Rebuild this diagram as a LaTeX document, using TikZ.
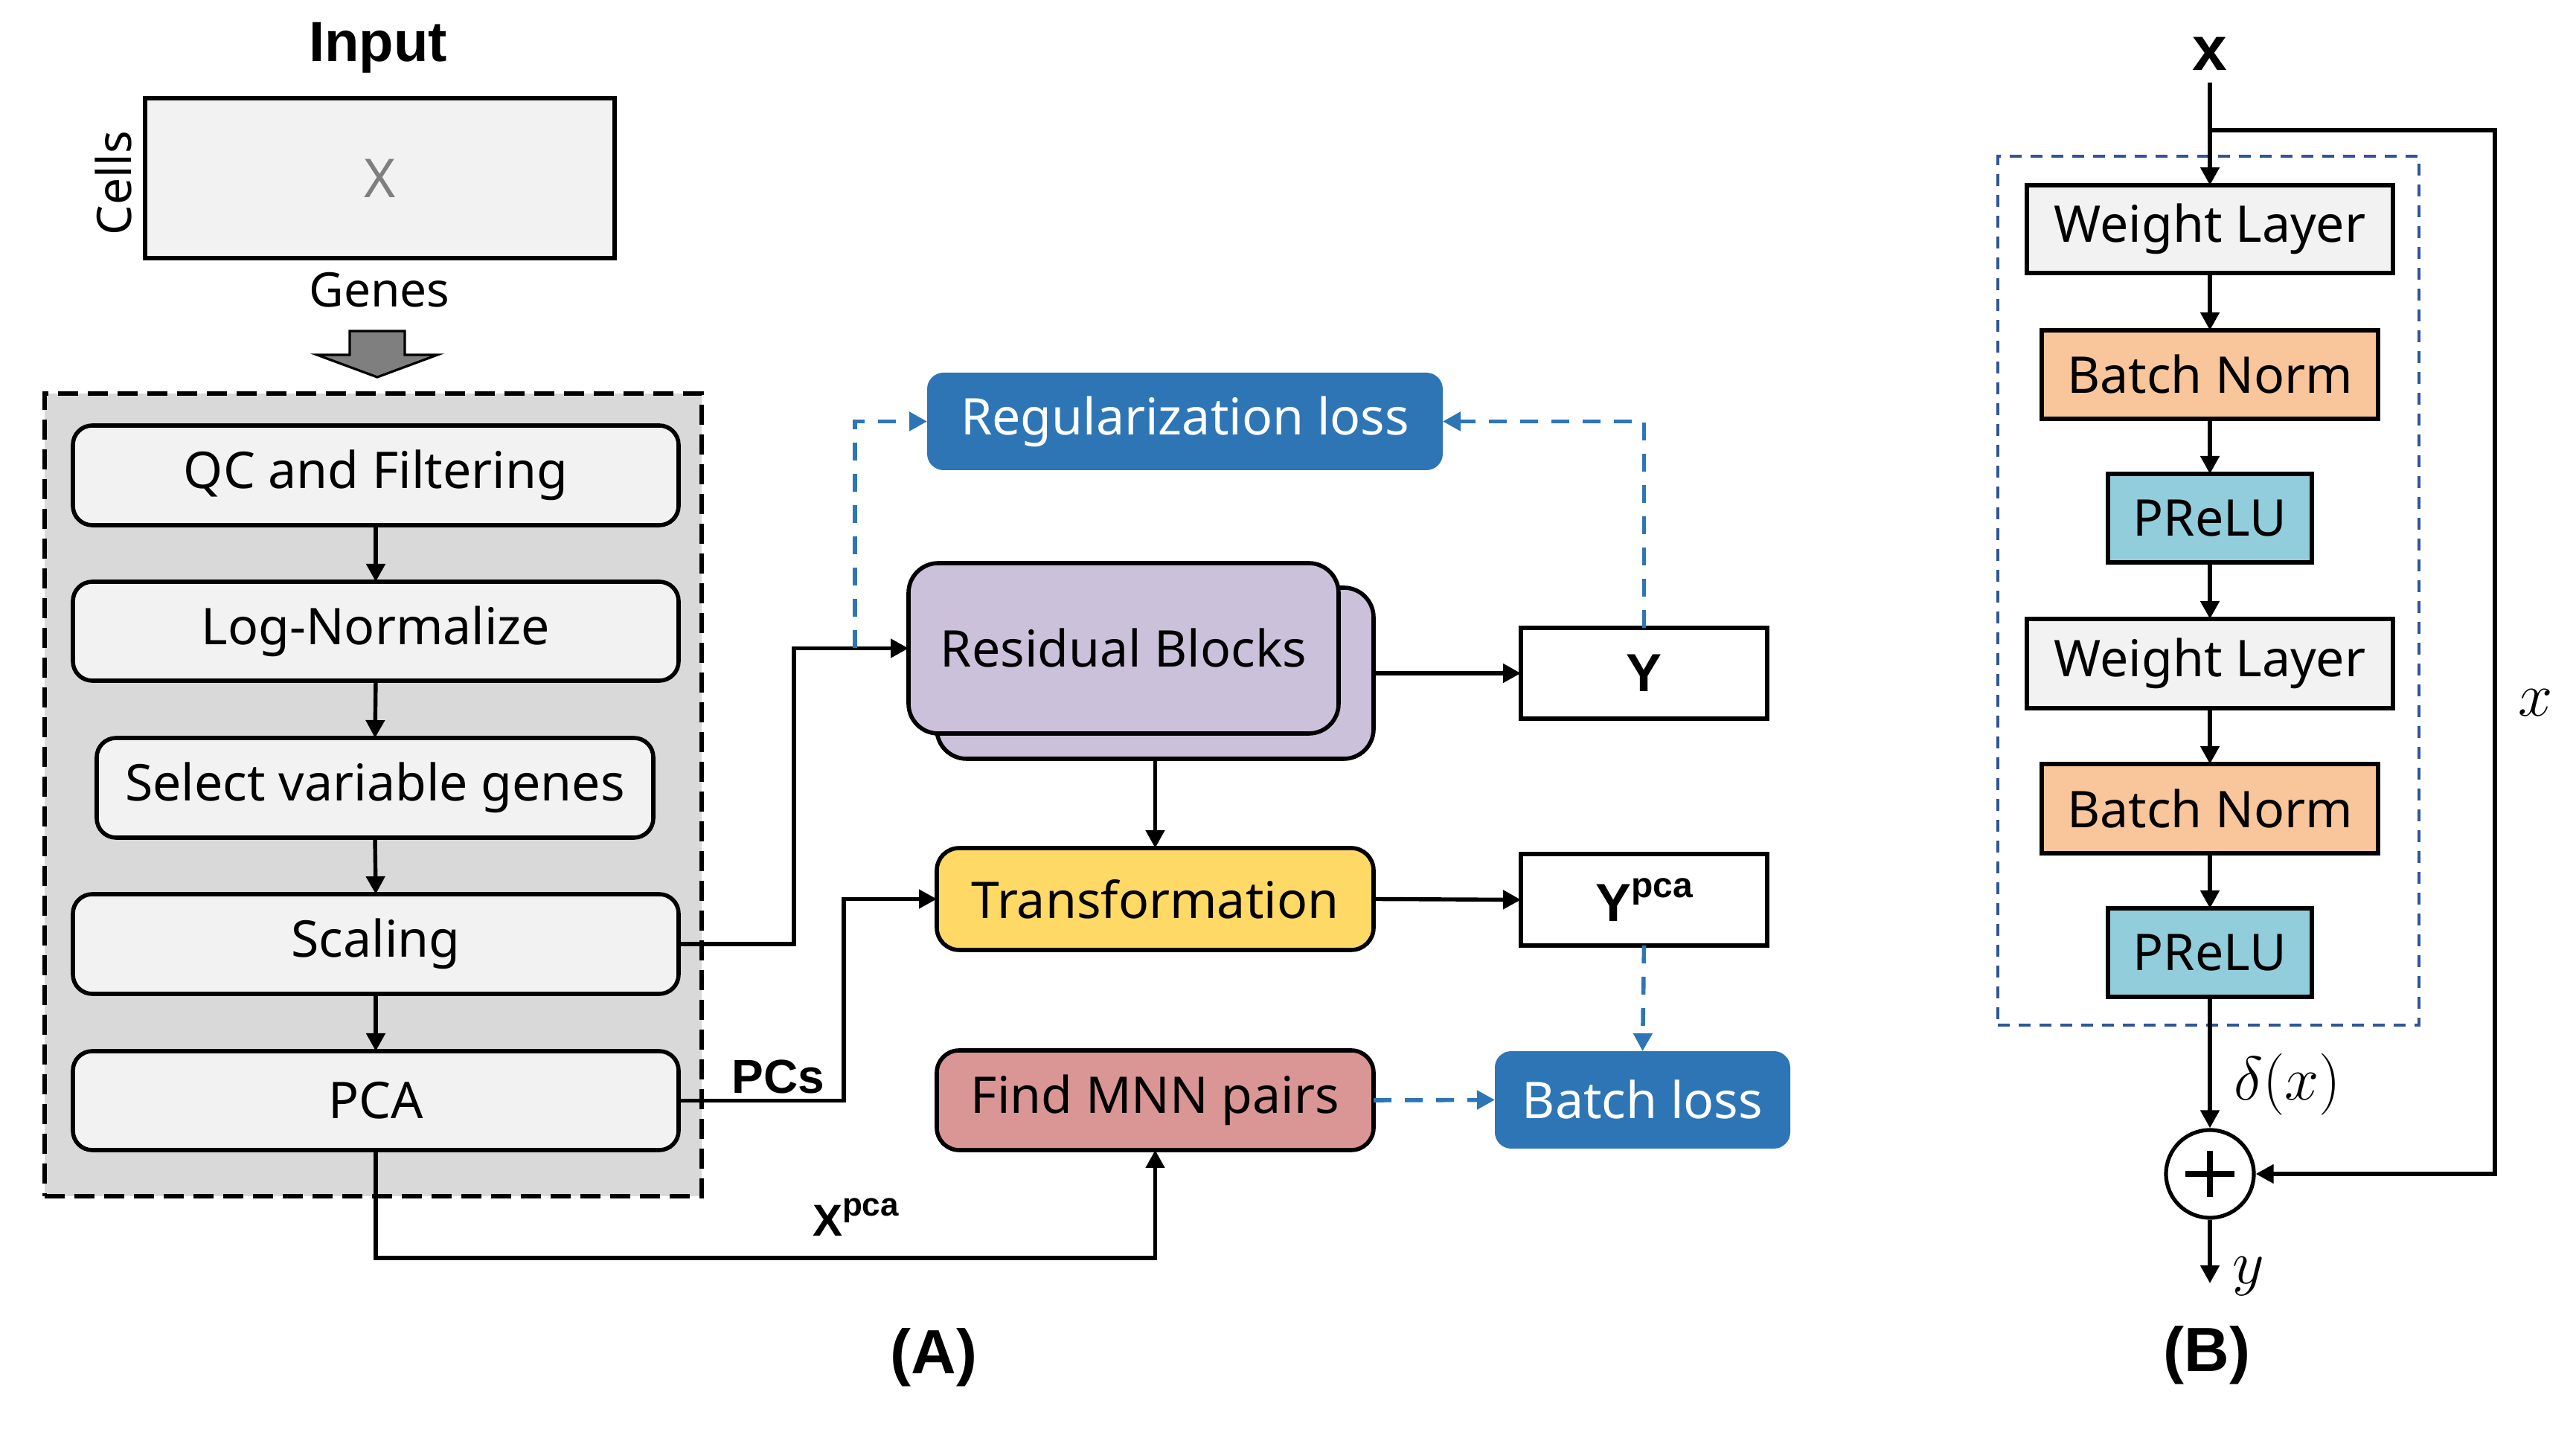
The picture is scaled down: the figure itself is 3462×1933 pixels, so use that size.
\documentclass[tikz,border=0pt]{standalone}
\usepackage{fontspec}
\setmainfont{Noto Sans}
\newfontfamily\bfam{Liberation Sans}
\usetikzlibrary{arrows.meta,calc}

\definecolor{boxgray}{HTML}{F2F2F2}
\definecolor{panelgray}{HTML}{D9D9D9}
\definecolor{lossblue}{HTML}{2E75B6}
\definecolor{resviolet}{HTML}{CCC1DA}
\definecolor{transyellow}{HTML}{FFD966}
\definecolor{mnnred}{HTML}{D99694}
\definecolor{bnorange}{HTML}{F8C69A}
\definecolor{preluc}{HTML}{92CDDC}
\definecolor{dashnavy}{HTML}{2F5597}
\definecolor{arrowgray}{HTML}{7F7F7F}

\begin{document}
\begin{tikzpicture}[x=0.25pt,y=-0.25pt,
  font=\fontsize{17}{20}\selectfont,
  conn/.style={line width=1.35pt,-{Triangle[length=6pt,width=6.2pt]}},
  dconn/.style={line width=1.4pt,draw=lossblue,dash pattern=on 6pt off 4.5pt,
    -{Triangle[length=6pt,width=6.2pt]}},
  sz/.style 2 args={minimum width=#1,minimum height=#2,inner sep=0pt,outer sep=0pt},
  pbox/.style={draw,line width=1.4pt,fill=boxgray,rounded corners=6.5pt},
  rbox/.style={draw,line width=1.4pt,fill=resviolet,rounded corners=10pt},
  cbox/.style={draw,line width=1.4pt,rounded corners=7.5pt},
  lossbox/.style={fill=lossblue,text=white,rounded corners=5.5pt},
  outbox/.style={draw,line width=1.4pt,fill=white},
  sbox/.style={draw,line width=1.4pt},
  boldlab/.style={font=\bfam\bfseries\fontsize{#1}{#1}\selectfont},
]
\useasboundingbox (0,0) rectangle (3462,1933);

% ---------- Input ----------
\node[boldlab=19] (inp) at (508,64) {Input};
\node[draw,line width=1.6pt,fill=boxgray,sz={157.75pt}{53.75pt}] (xmat) at (510.5,239.5) {};
\node[text=arrowgray,font=\fontsize{18}{20}\selectfont] (xlab) at (xmat.center) {X};
\node[rotate=90,font=\fontsize{16}{18}\selectfont] (cells) at (152,246) {Cells};
\node[font=\fontsize{16}{18}\selectfont] (genes) at (510,390) {Genes};
\draw[fill=arrowgray,line width=0.8pt] (470,445) -- (544,445) -- (544,477) -- (588,477)
  -- (507,507) -- (426,477) -- (470,477) -- cycle;

% ---------- Preprocessing panel ----------
\node[draw,line width=1.3pt,dash pattern=on 6.7pt off 3.3pt,fill=panelgray,
  sz={220.75pt}{269.75pt}] (prep) at (501.5,1068.5) {};
\node[pbox,sz={203.5pt}{33.5pt}] (qc) at (505,639) {QC and Filtering};
\node[pbox,sz={203.5pt}{33.25pt}] (ln) at (505,848.5) {Log-Normalize};
\node[pbox,sz={187pt}{33.5pt}] (sv) at (504,1059) {Select variable genes};
\node[pbox,sz={203.5pt}{33.5pt}] (sc) at (505,1269) {Scaling};
\node[pbox,sz={203.5pt}{33.25pt}] (pca) at (505,1479.5) {PCA};
\draw[conn] (qc.south) -- (ln.north);
\draw[conn] (ln.south) -- (sv.north);
\draw[conn] (sv.south) -- (sc.north);
\draw[conn] (sc.south) -- (pca.north);

% ---------- Model part ----------
\node[lossbox,sz={173.25pt}{32.75pt}] (reg) at (1592.5,566.5) {Regularization loss};
\node[rbox,sz={146.75pt}{57.5pt}] (rbback) at (1552.5,905) {};
\node[rbox,sz={144.5pt}{57.25pt}] (rb) at (1510,871.5) {Residual Blocks};
\node[outbox,sz={82.75pt}{30.5pt}] (ybox) at (2209.5,905) {\bfam\bfseries\fontsize{18}{20}\selectfont Y};
\node[cbox,fill=transyellow,sz={146.75pt}{34.25pt}] (tr) at (1552.5,1208.5) {Transformation};
\node[outbox,sz={82.75pt}{30.75pt}] (ypca) at (2209.5,1209.5)
  {\bfam\bfseries\fontsize{18}{20}\selectfont Y\raisebox{0.45em}{\fontsize{12}{14}\selectfont pca}};
\node[cbox,fill=mnnred,sz={146.75pt}{33.5pt}] (mnn) at (1552.5,1479) {Find MNN pairs};
\node[lossbox,sz={99.25pt}{32.75pt}] (bl) at (2207.5,1478.5) {Batch loss};

\coordinate (rsplit) at (1149,871.5);
\draw[conn] (sc.east) -- ++(155,0) |- (rb.west);
\draw[dconn] (rsplit) |- (reg.west);
\draw[dconn] (ybox.north) |- (reg.east);
\draw[conn] (rbback.east) -- (ybox.west);
\draw[conn] (rbback.south) -- (tr.north);
\draw[conn] (pca.east) -- ++(222,0) |- (tr.west);
\draw[conn] (tr.east) -- (ypca.west);
\draw[dconn] (ypca.south) -- (bl.north);
\draw[dconn] (mnn.east) -- (bl.west);
\draw[conn] (pca.south) -- ++(0,145) -| (mnn.south);

\node[boldlab=16] (pcs) at (1046,1447) {PCs};
\node (xpca) at (1150,1636)
  {\bfam\bfseries\fontsize{15}{18}\selectfont X\raisebox{0.45em}{\fontsize{11}{13}\selectfont pca}};
\node[boldlab=21] (labA) at (1255,1825) {(A)};

% ---------- Residual block (B) ----------
\node[draw=dashnavy,line width=1pt,dash pattern=on 4pt off 3pt,
  sz={141.5pt}{292pt}] (resblk) at (2968,794) {};
\node[sbox,fill=boxgray,sz={123pt}{29.5pt}] (w1) at (2970,308) {Weight Layer};
\node[sbox,fill=bnorange,sz={113pt}{29.75pt}] (bn1) at (2970,503.5) {Batch Norm};
\node[sbox,fill=preluc,sz={68.5pt}{29.75pt}] (pr1) at (2970,696.5) {PReLU};
\node[sbox,fill=boxgray,sz={123pt}{30pt}] (w2) at (2970,892) {Weight Layer};
\node[sbox,fill=bnorange,sz={113pt}{30pt}] (bn2) at (2970,1087) {Batch Norm};
\node[sbox,fill=preluc,sz={68.5pt}{29.75pt}] (pr2) at (2970,1280.5) {PReLU};
\node[circle,draw,line width=1.3pt,minimum size=29.5pt,inner sep=0pt] (plus) at (2970,1578) {};
\draw[line width=1.8pt] ($(plus.center)+(-33,0)$) -- ($(plus.center)+(33,0)$);
\draw[line width=1.8pt] ($(plus.center)+(0,-31)$) -- ($(plus.center)+(0,31)$);

\node[boldlab=21,inner sep=1pt] (xin) at (2970,72) {x};
\coordinate (xsplit) at (2970,175);
\coordinate (yout) at (2970,1725);
\draw[conn] (xin.south) ++(0,12) -- (w1.north);
\draw[conn] (xsplit) -- ++(383,0) |- (plus.east);
\draw[conn] (w1.south) -- (bn1.north);
\draw[conn] (bn1.south) -- (pr1.north);
\draw[conn] (pr1.south) -- (w2.north);
\draw[conn] (w2.south) -- (bn2.north);
\draw[conn] (bn2.south) -- (pr2.north);
\draw[conn] (pr2.south) -- (plus.north);
\draw[conn] (plus.south) -- (yout);

\node[font=\fontsize{20}{22}\selectfont] (dlt) at (3074,1458) {$\delta(x)$};
\node[font=\fontsize{20}{22}\selectfont] (ylab) at (3022,1716) {$y$};
\node[font=\fontsize{20}{22}\selectfont] (xright) at (3408,945) {$x$};
\node[boldlab=21] (labB) at (2966,1822) {(B)};
\end{tikzpicture}
\end{document}
